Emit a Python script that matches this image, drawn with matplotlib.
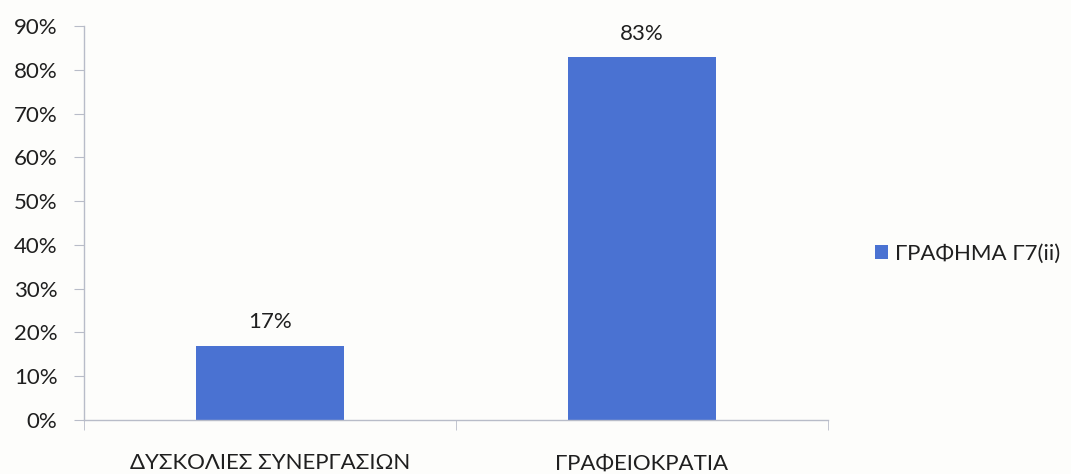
import matplotlib
matplotlib.use('Agg')
import matplotlib.pyplot as plt
from matplotlib.ticker import FuncFormatter

plt.rcParams['font.family'] = ['Lato', 'DejaVu Sans']

categories = [u'ΔΥΣΚΟΛΙΕΣ ΣΥΝΕΡΓΑΣΙΩΝ', u'ΓΡΑΦΕΙΟΚΡΑΤΙΑ']
values = [0.17, 0.83]
series_name = u'ΓΡΑΦΗΜΑ Γ7(ii)'

bar_color = '#4a72d2'
text_color = '#1f1f1f'
axis_color = '#b8bcc8'
fs = 16

fig = plt.figure(figsize=(10.71, 4.74), dpi=100)
fig.patch.set_facecolor('#fdfdfb')
ax = fig.add_axes([0.0784, 0.114, 0.6946, 0.831])
ax.set_facecolor('#fdfdfb')

x = range(len(categories))
bars = ax.bar(x, values, width=0.40, color=bar_color, label=series_name)

for xi, v in zip(x, values):
    ax.text(xi, v + 0.03, '{:.0f}%'.format(v * 100),
            ha='center', va='bottom', fontsize=fs, color=text_color)

ax.set_xlim(-0.5, len(categories) - 0.5)
ax.set_ylim(0, 0.9)
ax.set_yticks([i / 10 for i in range(10)])
ax.yaxis.set_major_formatter(FuncFormatter(lambda v, p: '{:.0f}%'.format(v * 100)))

ax.set_xticks(list(x))
ax.set_xticklabels(categories)
ax.set_xticks([-0.5, 0.5, 1.5], minor=True)
ax.tick_params(axis='x', which='major', length=0, pad=24, labelsize=fs, labelcolor=text_color)
ax.tick_params(axis='x', which='minor', length=7, color=axis_color, direction='out')
ax.tick_params(axis='y', length=7, color=axis_color, labelsize=fs, labelcolor=text_color, pad=12)

for s in ['top', 'right']:
    ax.spines[s].set_visible(False)
for s in ['left', 'bottom']:
    ax.spines[s].set_color(axis_color)
    ax.spines[s].set_linewidth(1.0)

fig.legend(loc='center left', bbox_to_anchor=(0.798, 0.465), frameon=False,
           fontsize=fs, handlelength=0.6, handleheight=0.6, handletextpad=0.3,
           labelcolor=text_color)

plt.savefig('out.png', dpi=100, facecolor=fig.get_facecolor())
